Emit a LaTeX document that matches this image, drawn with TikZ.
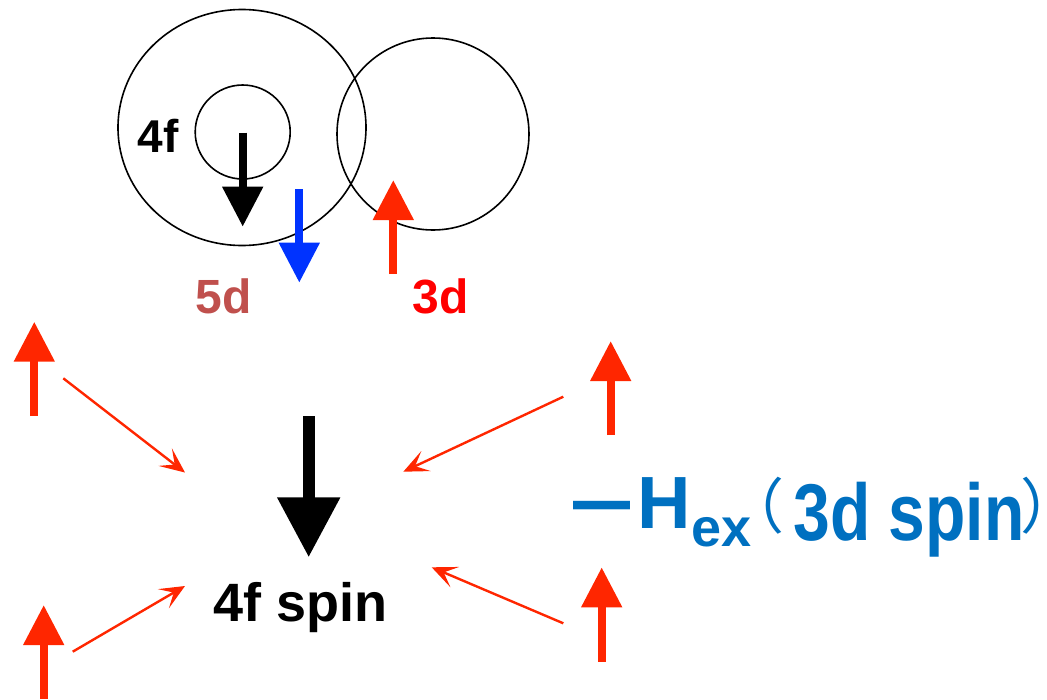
\documentclass[tikz,border=0pt]{standalone}
\usepackage{fontspec}
\setmainfont{Liberation Sans}
\newfontfamily\cjk{Noto Sans CJK JP}
\usetikzlibrary{arrows.meta}
\definecolor{spinred}{RGB}{255,38,0}
\definecolor{spinblue}{RGB}{0,51,255}
\definecolor{fived}{RGB}{192,80,77}
\definecolor{threed}{RGB}{255,0,0}
\definecolor{hexblue}{RGB}{0,112,192}
\newcommand{\fsz}[1]{\fontsize{#1}{#1}\selectfont}
\begin{document}
\begin{tikzpicture}[x=1pt,y=-1pt,
  orbit/.style={draw=black, line width=1.6pt},
  spinarrow/.style={line width=8pt, -{Triangle[length=40pt,width=39pt]}},
  bigspin/.style={draw=black, line width=12pt, -{Triangle[length=60pt,width=60pt]}},
  thinarrow/.style={draw=spinred, line width=2.4pt, -{Stealth[length=25pt,width=22pt,inset=12pt]}},
  lbl/.style={inner sep=0pt, anchor=base west, font=\bfseries}]
\useasboundingbox (0,0) rectangle (1047,699);

% orbitals
\draw[orbit] (242,127.5) circle[x radius=124pt, y radius=118pt];
\draw[orbit] (242.7,132) circle[x radius=47.5pt, y radius=47pt];
\draw[orbit] (433,134) circle[x radius=96pt, y radius=96pt];

% spin coordinates
\coordinate (f4a) at (242.7,132.7);  \coordinate (f4b) at (242.7,226.7);
\coordinate (d5a) at (299.3,189);    \coordinate (d5b) at (299.3,282.7);
\coordinate (d3a) at (393.3,274);    \coordinate (d3b) at (393.3,180);
\coordinate (tla) at (34.3,416);     \coordinate (tlb) at (34.3,321.7);
\coordinate (bla) at (43.7,699);     \coordinate (blb) at (43.7,605);
\coordinate (tra) at (610.7,435);    \coordinate (trb) at (610.7,341);
\coordinate (bra) at (601.7,661.7);  \coordinate (brb) at (601.7,567.3);
\coordinate (bga) at (308.7,416);    \coordinate (bgb) at (308.7,557.3);

\draw[spinarrow, draw=black] (f4a) -- (f4b);
\draw[spinarrow, draw=spinblue] (d5a) -- (d5b);
\draw[spinarrow, draw=spinred] (d3a) -- (d3b);
\draw[spinarrow, draw=spinred] (tla) -- (tlb);
\draw[spinarrow, draw=spinred] (bla) -- (blb);
\draw[spinarrow, draw=spinred] (tra) -- (trb);
\draw[spinarrow, draw=spinred] (bra) -- (brb);
\draw[bigspin] (bga) -- (bgb);

% exchange arrows
\coordinate (t1s) at (63.3,378.3);  \coordinate (t1e) at (185,472.5);
\coordinate (t2s) at (72.7,651.7);  \coordinate (t2e) at (185,586);
\coordinate (t3s) at (563.3,396.7); \coordinate (t3e) at (403.3,471.7);
\coordinate (t4s) at (563.3,623.3); \coordinate (t4e) at (431.7,567.3);
\draw[thinarrow] (t1s) -- (t1e);
\draw[thinarrow] (t2s) -- (t2e);
\draw[thinarrow] (t3s) -- (t3e);
\draw[thinarrow] (t4s) -- (t4e);

% labels
\node[lbl, font=\bfseries\fsz{46}] (l4f) at (137.5,152) {4f};
\node[lbl, text=fived, font=\bfseries\fsz{48}] (l5d) at (195.5,313) {5d};
\node[lbl, text=threed, font=\bfseries\fsz{48}] (l3d) at (412.5,313) {3d};
\node[lbl, font=\bfseries\fsz{54}] (spin) at (213.5,621.7) {4f spin};

% exchange field
\node[lbl, text=hexblue, font=\bfseries\fsz{57}] (minus) at (573,528) {\scalebox{1}[1.5]{—}};
\node[lbl, text=hexblue, font=\bfseries\fsz{74}] (hex) at (637.6,528) {H\raisebox{-18pt}{\fsz{54}ex}};
\node[inner sep=0pt, text=hexblue, font=\cjk\fsz{60}] (lp) at (754,506) {（};
\node[lbl, text=hexblue, font=\bfseries\fsz{66}] (spin3d) at (793.3,540) {\scalebox{1}[1.22]{3d spin}};
\node[inner sep=0pt, anchor=west, text=hexblue, font=\cjk\fsz{60}] (rp) at (1020,506) {\makebox[20pt][l]{）}};
\end{tikzpicture}
\end{document}
